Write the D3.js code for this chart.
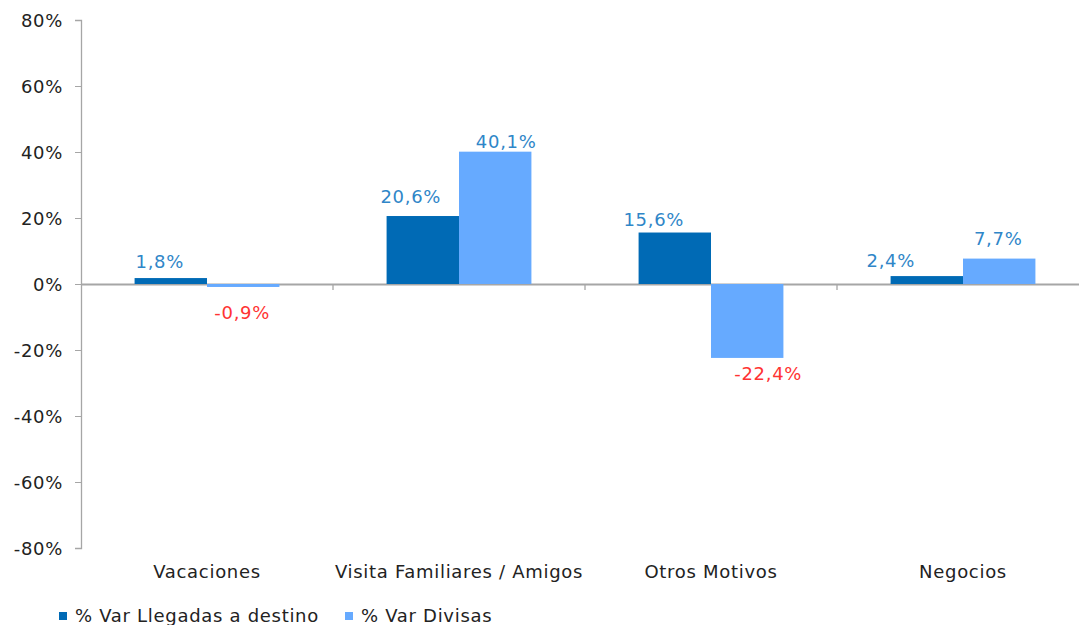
<!DOCTYPE html>
<html><head><meta charset="utf-8">
<script src="https://cdn.jsdelivr.net/npm/d3@7"></script>
<style>
html,body{margin:0;padding:0;background:#fff;overflow:hidden;}
text{font-family:"DejaVu Sans",Verdana,sans-serif;font-size:18px;letter-spacing:0.7px;}
</style></head>
<body>
<svg id="chart" width="1079" height="625"></svg>
<script>
const categories = ["Vacaciones", "Visita Familiares / Amigos", "Otros Motivos", "Negocios"];
const seriesNames = ["% Var Llegadas a destino", "% Var Divisas"];
const llegadas = [1.8, 20.6, 15.6, 2.4];
const divisas = [-0.9, 40.1, -22.4, 7.7];
const yTicks = [-80, -60, -40, -20, 0, 20, 40, 60, 80];

const colors = ["#006AB5", "#66AAFF"];
const svg = d3.select("#chart");
const x0 = d3.scaleBand().domain(categories).range([81, 1089]).paddingInner(0).paddingOuter(0);
const x1 = d3.scaleBand().domain([0, 1]).range([0, x0.bandwidth()]).paddingInner(0).paddingOuter(0.74);
const y = d3.scaleLinear().domain([-80, 80]).range([548, 20]);
const fmt = v => (v < 0 ? "-" : "") + d3.format(".1f")(Math.abs(v)).replace(".", ",") + "%";

// y axis
const yAxis = d3.axisLeft(y).tickValues(yTicks).tickSize(6).tickFormat(d => d + "%");
const ga = svg.append("g").attr("transform", "translate(81,0)").call(yAxis);
ga.attr("font-family", null).attr("font-size", null);
ga.select(".domain").attr("stroke", "#a6a6a6").attr("stroke-width", 1.3);
ga.selectAll(".tick line").attr("stroke", "#a6a6a6");
ga.selectAll(".tick text").attr("x", -18).attr("dy", "0.36em").attr("fill", "#222");

// x axis at zero
const xAxis = d3.axisBottom(x0).tickSize(0).tickFormat("");
const gx = svg.append("g").attr("transform", `translate(0,${y(0)})`).call(xAxis);
gx.select(".domain").attr("stroke", "#a6a6a6").attr("stroke-width", 2);
gx.selectAll(".sep").data(categories.slice(1)).enter().append("line")
  .attr("x1", d => x0(d)).attr("x2", d => x0(d)).attr("y1", 0).attr("y2", 6)
  .attr("stroke", "#a6a6a6").attr("stroke-width", 1.3);

// category labels
svg.append("g").selectAll("text").data(categories).enter().append("text")
  .attr("x", d => x0(d) + x0.bandwidth() / 2).attr("y", 578)
  .attr("text-anchor", "middle").attr("fill", "#222").text(d => d);

// bars + labels
const data = categories.map((c, i) => ({c, vals: [llegadas[i], divisas[i]]}));
const labelNudge = [[[-11, 0], [-1, 10]], [[-12, -3], [11, 6]], [[-21, 3.5], [21, 0]], [[-36, 1], [-1, -3.5]]];
data.forEach((d, i) => {
  d.vals.forEach((v, s) => {
    const bx = x0(d.c) + x1(s);
    svg.append("rect").attr("x", bx).attr("width", x1.bandwidth())
      .attr("y", y(Math.max(0, v))).attr("height", Math.abs(y(v) - y(0)))
      .attr("fill", colors[s]);
    const n = labelNudge[i][s];
    svg.append("text")
      .attr("x", bx + x1.bandwidth() / 2 + n[0])
      .attr("y", (v >= 0 ? y(v) - 10 : y(v) + 22) + n[1])
      .attr("text-anchor", "middle")
      .attr("fill", v >= 0 ? "#2F86C8" : "#FF3333")
      .text(fmt(v));
  });
});

// legend
const lg = svg.append("g");
const lx = [59, 345];
seriesNames.forEach((s, i) => {
  lg.append("rect").attr("x", lx[i]).attr("y", 612).attr("width", 8).attr("height", 8).attr("fill", colors[i]);
  lg.append("text").attr("x", lx[i] + 16).attr("y", 622).attr("fill", "#222").text(s);
});
</script>
</body></html>
